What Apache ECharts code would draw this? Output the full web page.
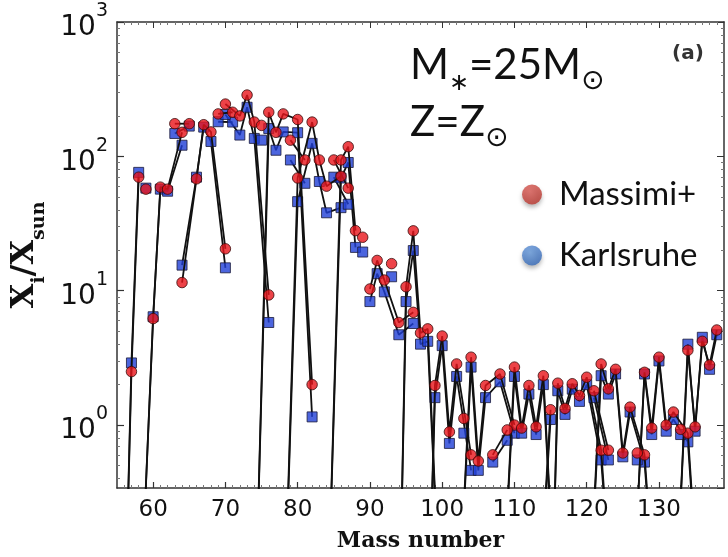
<!DOCTYPE html>
<html><head><meta charset="utf-8">
<script src="https://cdn.jsdelivr.net/npm/echarts@6/dist/echarts.min.js"></script>
<style>html,body{margin:0;padding:0;background:#fff}#c{width:728px;height:557px}</style>
</head><body><div id="c"></div>
<script>
// ---- data (isotopes grouped by element Z; 0.02 = below plotted range) ----
const elementZ = [
 26,26,26, 27, 28,28,28,28,28, 29,29, 30,30,30,30,30, 31,31, 32,32,32,32,32, 33,
 34,34,34,34,34,34, 35,35, 36,36,36,36,36,36, 37,37, 38,38,38,38, 39,
 40,40,40,40,40, 41, 42,42,42,42,42,42,42, 44,44,44,44,44,44,44, 45,
 46,46,46,46,46,46, 47,47, 48,48,48,48,48,48,48,48, 49,49,
 50,50,50,50,50,50,50,50,50,50, 51,51, 52,52,52,52,52,52,52,52, 53,
 54,54,54,54,54,54,54,54,54, 55, 56,56,56,56,56,56,56
];
const massNumber = [
 56,57,58, 59, 58,60,61,62,64, 63,65, 64,66,67,68,70, 69,71, 70,72,73,74,76, 75,
 74,76,77,78,80,82, 79,81, 78,80,82,83,84,86, 85,87, 84,86,87,88, 89,
 90,91,92,94,96, 93, 92,94,95,96,97,98,100, 96,98,99,100,101,102,104, 103,
 102,104,105,106,108,110, 107,109, 106,108,110,111,112,113,114,116, 113,115,
 112,114,115,116,117,118,119,120,122,124, 121,123, 120,122,123,124,125,126,128,130, 127,
 124,126,128,129,130,131,132,134,136, 133, 130,132,134,135,136,137,138
];
const massimi = [
 0.02,2.5,70, 57, 0.02,6.2,59,57,151, 175,175, 11.5,68,172,152,20.5, 207,213, 245,200,286,180,9.3, 170,
 0.02,213,151,207,188,2.0, 132,94, 0.02,69,180,94,60,71, 94,58, 0.02,94,118,28, 25,
 10.3,16.8,12,5.8,6.9, 15.9, 0.02,0.02,10.7,27.9,4.85,5.2,0.02, 0.02,0.02,1.97,4.6,0.89,2.85,0.6, 1.12,
 0.02,3.2,0.54,1.97,2.4,1.0, 0.6,0.92, 0.02,0.02,2.7,0.95,1.97,0.97,2.33,0.02, 0.02,1.3,
 0.02,0.02,0.02,2.05,1.33,2.03,1.66,2.27,0.65,0.02, 1.8,0.65, 0.02,2.85,1.86,2.6,0.62,1.36,0.6,0.02, 0.62,
 0.02,0.02,2.47,0.95,3.2,1.0,1.25,0.87,0.02, 0.93, 0.02,0.02,3.6,0.97,4.2,2.8,5.1
];
const karlsruhe = [
 0.02,2.9,76, 58, 0.02,6.4,57,55,121, 148,168, 15.5,70,165,129,14.8, 181,180, 205,144,232,136,5.8, 132,
 0.02,161,111,152,150,1.15, 94,63, 0.02,46,125,65,38,41.5, 70,44, 0.02,69,90,21, 19.4,
 8.3,13.4,9.8,4.7,5.7, 12.7, 0.02,0.02,8.3,19.9,4.0,4.2,0.02, 0.02,0.02,1.6,3.9,0.73,2.3,0.46, 0.87,
 0.02,2.7,0.46,1.6,2.1,0.87, 0.53,0.77, 0.02,0.02,2.3,0.87,1.7,0.85,2.0,0.02, 0.02,1.1,
 0.02,0.02,0.02,1.8,1.2,1.85,1.5,2.0,0.55,0.02, 1.6,0.55, 0.02,2.33,1.7,2.4,0.58,1.25,0.53,0.02, 0.55,
 0.02,0.02,2.4,0.85,3.0,0.9,1.1,0.75,0.02, 0.85, 0.02,0.02,4.0,0.9,4.5,2.6,4.7
];
const seriesNames = ['Massimi+', 'Karlsruhe'];
const xTickLabels = [60, 70, 80, 90, 100, 110, 120, 130];
const xRange = [55, 139];
const yRange = [0.34, 1000];

// ---- build ----
const zList = [...new Set(elementZ)];
function chains(values) {
  return zList.map(z => {
    const pts = [];
    elementZ.forEach((e, i) => { if (e === z) pts.push([massNumber[i], values[i]]); });
    pts.sort((a, b) => a[0] - b[0]);
    return pts;
  });
}
const pts = v => massNumber.map((m, i) => [m, v[i]]).filter(p => p[1] >= yRange[0]);

const series = [];
const lineStyle = { color: '#111', width: 1.8 };
chains(karlsruhe).forEach(d => series.push({ type: 'line', data: d, symbol: 'none', lineStyle, z: 1, silent: true, clip: true, animation: false }));
series.push({ name: seriesNames[1], type: 'scatter', data: pts(karlsruhe), symbol: 'rect', symbolSize: 10,
  itemStyle: { color: '#1f3fd6', borderColor: '#1a1a3a', borderWidth: 1 }, z: 2, clip: true });
chains(massimi).forEach(d => series.push({ type: 'line', data: d, symbol: 'none', lineStyle, z: 3, silent: true, clip: true, animation: false }));
series.push({ name: seriesNames[0], type: 'scatter', data: pts(massimi), symbol: 'circle', symbolSize: 10.5,
  itemStyle: { color: '#e8141a', borderColor: '#3a0a0a', borderWidth: 1 }, z: 4, clip: true });

const minorX = [];
for (let m = 56; m <= 138; m++) if (m % 10) minorX.push(m);
const minorY = [];
for (let p = -1; p < 3; p++) for (let k = 2; k <= 9; k++) { const v = Math.log10(k) + p; if (v > Math.log10(yRange[0])) minorY.push(v); }

const frame = { show: true, onZero: false, lineStyle: { color: '#333', width: 1.5 } };
const hiddenLine = { show: false, onZero: false };
const noLabel = { show: false };
const grid = { left: 117, right: 4, top: 22, bottom: 64 };

const sphere = (c1, c2) => ({ type: 'radial', x: 0.4, y: 0.35, r: 0.7,
  colorStops: [{ offset: 0, color: c1 }, { offset: 1, color: c2 }] });

const option = {
  animation: false,
  backgroundColor: '#fff',
  grid,
  xAxis: [
    { type: 'value', min: xRange[0], max: xRange[1], position: 'bottom', axisLine: frame,
      axisTick: { inside: true, length: 6, customValues: xTickLabels, lineStyle: { color: '#333', width: 1.2 } },
      axisLabel: { customValues: xTickLabels, fontSize: 23, fontFamily: 'DejaVu Sans', color: '#111', margin: 11 },
      splitLine: { show: false },
      name: 'Mass number', nameLocation: 'middle', nameGap: 42,
      nameTextStyle: { fontFamily: 'DejaVu Serif', fontWeight: 'bold', fontSize: 22, color: '#111' } },
    { type: 'value', min: xRange[0], max: xRange[1], position: 'top', axisLine: frame,
      axisTick: { inside: true, length: 6, customValues: xTickLabels, lineStyle: { color: '#333' } },
      axisLabel: noLabel, splitLine: { show: false } },
    { type: 'value', min: xRange[0], max: xRange[1], position: 'bottom', axisLine: hiddenLine,
      axisTick: { inside: true, length: 3, customValues: minorX, lineStyle: { color: '#777' } },
      axisLabel: noLabel, splitLine: { show: false } },
    { type: 'value', min: xRange[0], max: xRange[1], position: 'top', axisLine: hiddenLine,
      axisTick: { inside: true, length: 3, customValues: minorX, lineStyle: { color: '#777' } },
      axisLabel: noLabel, splitLine: { show: false } }
  ],
  yAxis: [
    { type: 'log', logBase: 10, min: yRange[0], max: yRange[1], position: 'left', axisLine: frame,
      axisTick: { inside: true, length: 7, lineStyle: { color: '#333', width: 1.2 } },
      axisLabel: { showMinLabel: false, margin: 9,
        formatter: v => '{b|10}{s|' + Math.round(Math.log10(v)) + '}',
        rich: { b: { fontSize: 28, fontFamily: 'DejaVu Sans', color: '#111', verticalAlign: 'bottom', lineHeight: 40 },
                s: { fontSize: 19, fontFamily: 'DejaVu Sans', color: '#111', verticalAlign: 'top', lineHeight: 40 } } },
      splitLine: { show: false },
      name: '{m|X}{u|i}{m|/X}{u|sun}', nameLocation: 'middle', nameGap: 68, nameRotate: 90,
      nameTextStyle: { rich: {
        m: { fontFamily: 'DejaVu Serif', fontWeight: 'bold', fontSize: 32, color: '#111', verticalAlign: 'top', lineHeight: 40 },
        u: { fontFamily: 'DejaVu Serif', fontWeight: 'bold', fontSize: 19, color: '#111', verticalAlign: 'bottom', lineHeight: 40 } } } },
    { type: 'log', logBase: 10, min: yRange[0], max: yRange[1], position: 'right', axisLine: frame,
      axisTick: { inside: true, length: 7, lineStyle: { color: '#333' } },
      axisLabel: noLabel, splitLine: { show: false } },
    { type: 'value', min: Math.log10(yRange[0]), max: 3, position: 'left', axisLine: hiddenLine,
      axisTick: { inside: true, length: 3, customValues: minorY, lineStyle: { color: '#777' } },
      axisLabel: noLabel, splitLine: { show: false } },
    { type: 'value', min: Math.log10(yRange[0]), max: 3, position: 'right', axisLine: hiddenLine,
      axisTick: { inside: true, length: 3, customValues: minorY, lineStyle: { color: '#777' } },
      axisLabel: noLabel, splitLine: { show: false } }
  ],
  legend: {
    orient: 'vertical', left: 522, top: 178, itemWidth: 20, itemHeight: 20, itemGap: 28,
    selectedMode: false, padding: 0,
    textStyle: { fontFamily: 'Lato', fontSize: 33, color: '#111', lineHeight: 20, padding: [0, 0, 0, 12] },
    data: [
      { name: seriesNames[0], icon: 'circle', itemStyle: { color: sphere('#e0605a', '#b8352d'), borderWidth: 0,
        shadowBlur: 4, shadowOffsetY: 3, shadowColor: 'rgba(0,0,0,0.35)' } },
      { name: seriesNames[1], icon: 'circle', itemStyle: { color: sphere('#6a9ee0', '#3468b8'), borderWidth: 0,
        shadowBlur: 4, shadowOffsetY: 3, shadowColor: 'rgba(0,0,0,0.35)' } }
    ]
  },
  graphic: [
    { type: 'text', left: 410, top: 44, style: {
      text: '{a|M}{s|∗}{a|=25M}{o|⊙}', rich: {
        a: { fontFamily: 'Lato', fontSize: 42, fill: '#111', verticalAlign: 'top', lineHeight: 52 },
        s: { fontFamily: 'Lato', fontSize: 24, fill: '#111', verticalAlign: 'bottom', lineHeight: 52, padding: [0, 0, 2, 0] },
        o: { fontFamily: 'DejaVu Sans', fontSize: 28, fill: '#111', verticalAlign: 'bottom', lineHeight: 52 } } } },
    { type: 'text', left: 410, top: 101, style: {
      text: '{a|Z=Z}{o|⊙}', rich: {
        a: { fontFamily: 'Lato', fontSize: 42, fill: '#111', verticalAlign: 'top', lineHeight: 52 },
        o: { fontFamily: 'DejaVu Sans', fontSize: 28, fill: '#111', verticalAlign: 'bottom', lineHeight: 52 } } } },
    { type: 'text', left: 672, top: 44, style: { text: '(a)', font: 'bold 20px "DejaVu Sans"', fill: '#333' } }
  ],
  series
};
const chart = echarts.init(document.getElementById('c'), null, { renderer: 'canvas' });
chart.setOption(option);
</script></body></html>
